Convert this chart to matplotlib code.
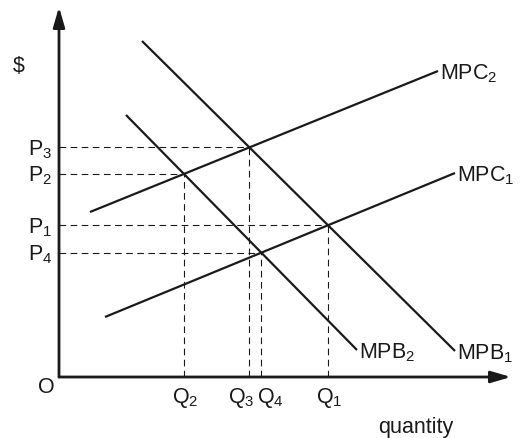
import numpy as np
import matplotlib.pyplot as plt

plt.rcParams['font.family'] = ['Liberation Sans', 'DejaVu Sans']

# curve endpoints (quantity, price) in diagram units, origin at O
curve_names = ['MPC$_\\mathregular{2}$', 'MPC$_\\mathregular{1}$', 'MPB$_\\mathregular{1}$', 'MPB$_\\mathregular{2}$']
curve_x0 = [31, 46, 83, 67]
curve_y0 = [165, 60, 336, 262]
curve_x1 = [379, 396, 396, 298]
curve_y1 = [306, 204, 26, 27]

# which curves cross at each labelled equilibrium
eq_pairs = [(0, 2), (0, 3), (1, 2), (1, 3)]
p_labels = ['P$_\\mathregular{3}$', 'P$_\\mathregular{2}$', 'P$_\\mathregular{1}$', 'P$_\\mathregular{4}$']
q_labels = ['Q$_\\mathregular{3}$', 'Q$_\\mathregular{2}$', 'Q$_\\mathregular{1}$', 'Q$_\\mathregular{4}$']
q_shift = [-8, 1, 1, 9]

ink = '#1a1a1a'
fs = 15.5


def crossing(i, j):
    mi = (curve_y1[i] - curve_y0[i]) / (curve_x1[i] - curve_x0[i])
    mj = (curve_y1[j] - curve_y0[j]) / (curve_x1[j] - curve_x0[j])
    bi = curve_y0[i] - mi * curve_x0[i]
    bj = curve_y0[j] - mj * curve_x0[j]
    x = (bj - bi) / (mi - mj)
    return x, mi * x + bi


fig = plt.figure(figsize=(5.25, 4.39), dpi=100)
ax = fig.add_axes([0, 0, 1, 1])
ax.set_xlim(-59, 466)
ax.set_ylim(-61, 378)
ax.axis('off')

# axes with arrows
ax.annotate('', xy=(452, 0), xytext=(0, 0),
            arrowprops=dict(arrowstyle='-|>,head_length=1.2,head_width=0.35', color=ink, lw=2, shrinkA=0, shrinkB=0))
ax.annotate('', xy=(0, 370), xytext=(0, 0),
            arrowprops=dict(arrowstyle='-|>,head_length=1.2,head_width=0.35', color=ink, lw=2, shrinkA=0, shrinkB=0))

for k in range(len(curve_names)):
    ax.plot([curve_x0[k], curve_x1[k]], [curve_y0[k], curve_y1[k]], color=ink, lw=1.6, solid_capstyle='butt')
    ax.text(curve_x1[k] + 2, curve_y1[k] - 2, curve_names[k], fontsize=fs, ha='left', va='center', color=ink)

for (i, j), pl, ql, dq in zip(eq_pairs, p_labels, q_labels, q_shift):
    qx, py = crossing(i, j)
    ax.plot([0, qx], [py, py], color=ink, lw=0.8, ls=(0, (6, 4)))
    ax.plot([qx, qx], [0, py], color=ink, lw=0.8, ls=(0, (6, 4)))
    ax.text(-7, py - 1, pl, fontsize=fs, ha='right', va='center', color=ink)
    ax.text(qx + dq, -8, ql, fontsize=fs, ha='center', va='top', color=ink)

ax.text(-13, -10, 'O', fontsize=fs, ha='center', va='center', color=ink)
ax.text(-40, 312, '$', fontsize=fs, ha='center', va='center', color=ink)
ax.text(357, -50, 'quantity', fontsize=fs, ha='center', va='center', color=ink)

fig.savefig('out.png', dpi=100)
